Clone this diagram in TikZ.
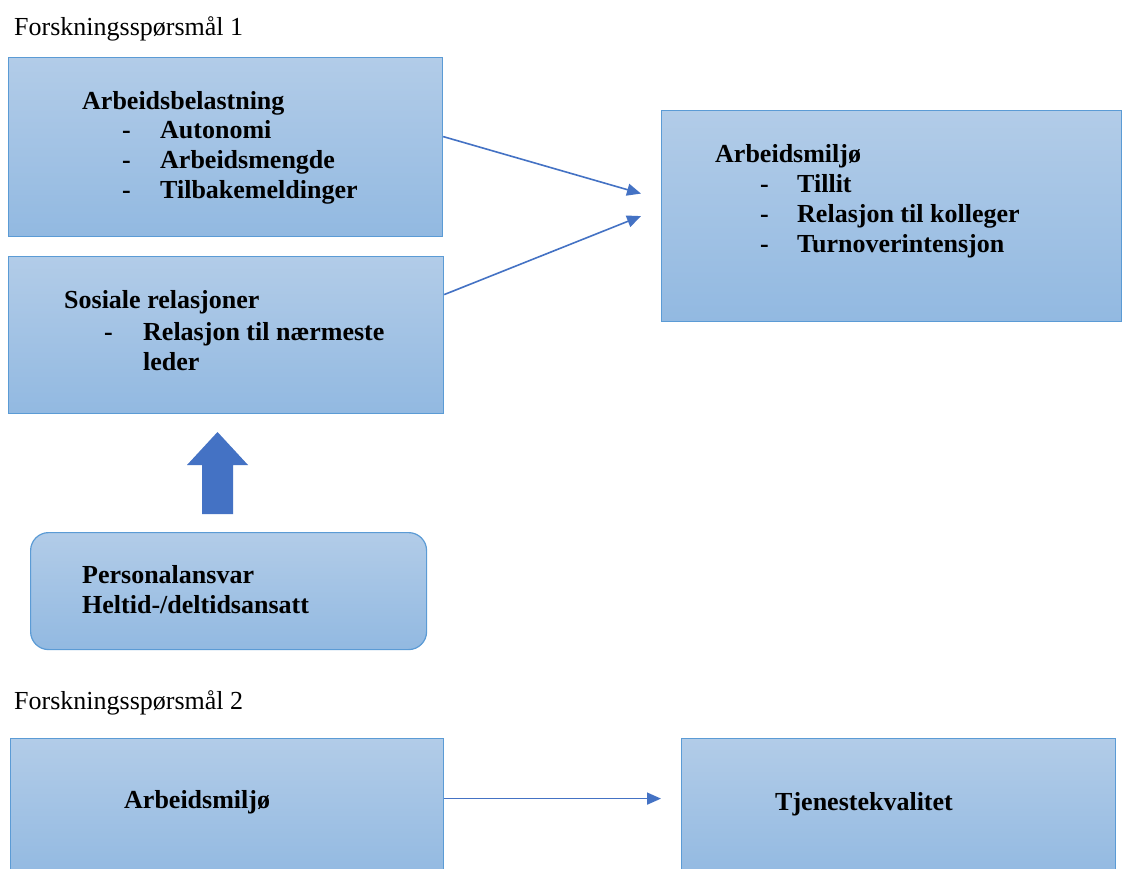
\documentclass[tikz,border=0pt]{standalone}
\usepackage{fontspec}
\setmainfont{Liberation Serif}
\usetikzlibrary{arrows.meta}
\definecolor{boxtop}{RGB}{178,204,232}
\definecolor{boxbot}{RGB}{146,185,225}
\definecolor{boxline}{RGB}{91,155,213}
\definecolor{arrowblue}{RGB}{68,114,196}
\begin{document}
\begin{tikzpicture}[x=1pt,y=-1pt,
  box/.style={draw=boxline, line width=1.2pt, top color=boxtop, bottom color=boxbot,
              anchor=north west, inner sep=0pt},
  bold/.style={anchor=base west, inner sep=0pt, font=\fontsize{26}{30}\selectfont\bfseries},
  plain/.style={anchor=base west, inner sep=0pt, font=\fontsize{26}{30}\selectfont},
  link/.style={draw=arrowblue, line width=1.6pt, -{Triangle[length=14pt,width=12pt]}}]
\clip (0,0) rectangle (1122,869);
\fill[white] (0,0) rectangle (1122,869);

% headings
\node[plain] (q1) at (14,36) {Forskningsspørsmål 1};
\node[plain] (q2) at (14,709) {Forskningsspørsmål 2};

% boxes
\node[box, minimum width=434pt, minimum height=179pt] (A) at (8,57) {};
\node[box, minimum width=435pt, minimum height=157pt] (B) at (8,256) {};
\node[box, minimum width=460pt, minimum height=211pt] (C) at (661,110) {};
\node[box, rounded corners=18pt, minimum width=396pt, minimum height=117pt] (D) at (30,532) {};
\node[box, minimum width=433pt, minimum height=140pt] (E) at (10,738) {};
\node[box, minimum width=434pt, minimum height=140pt] (F) at (681,738) {};

% box texts
\node[bold] (a0) at (82,110) {Arbeidsbelastning};
\node[bold] (a1d) at (122,139) {-};
\node[bold] (a1) at (160,139) {Autonomi};
\node[bold] (a2d) at (122,169) {-};
\node[bold] (a2) at (160,169) {Arbeidsmengde};
\node[bold] (a3d) at (122,199) {-};
\node[bold] (a3) at (160,199) {Tilbakemeldinger};

\node[bold] (b0) at (64,308) {Sosiale relasjoner};
\node[bold] (b1d) at (104,340) {-};
\node[bold] (b1) at (143,340) {Relasjon til nærmeste};
\node[bold] (b2) at (143,370) {leder};

\node[bold] (c0) at (715,163) {Arbeidsmiljø};
\node[bold] (c1d) at (760,193) {-};
\node[bold] (c1) at (797,193) {Tillit};
\node[bold] (c2d) at (760,223) {-};
\node[bold] (c2) at (797,223) {Relasjon til kolleger};
\node[bold] (c3d) at (760,253) {-};
\node[bold] (c3) at (797,253) {Turnoverintensjon};

\node[bold] (d0) at (82,583) {Personalansvar};
\node[bold] (d1) at (82,613) {Heltid-/deltidsansatt};

\node[bold] (e0) at (124,808) {Arbeidsmiljø};
\node[bold] (f0) at (775,810) {Tjenestekvalitet};

% connectors
\coordinate (t1) at ([xshift=-20pt,yshift=22.5pt]C.west);
\coordinate (t2) at ([xshift=-20pt]C.west);
\coordinate (t3) at ([xshift=-20pt,yshift=10pt]F.west);
\draw[link] ([yshift=10.5pt]A.east) -- (t1);
\draw[link] ([yshift=40.5pt]B.east) -- (t2);
\draw[link] ([yshift=10pt]E.east) -- (t3);

% block arrow from D up to B
\fill[arrowblue] (202,514) -- (202,465) -- (187,465) -- (217.5,432) -- (248,465)
  -- (233,465) -- (233,514) -- cycle;
\end{tikzpicture}
\end{document}
